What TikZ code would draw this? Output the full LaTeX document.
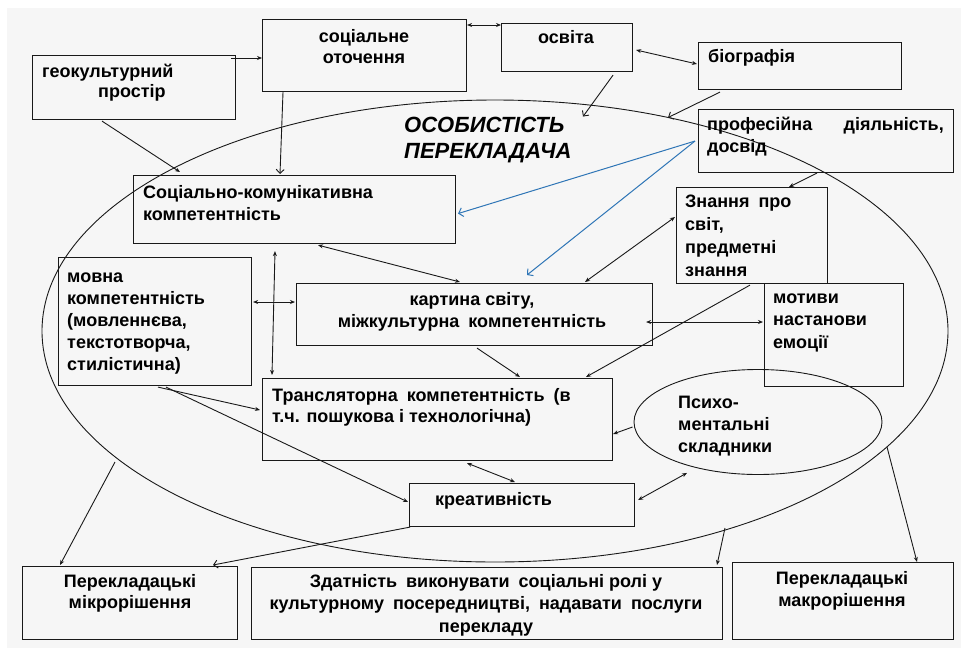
\documentclass[tikz,border=0pt]{standalone}
\usepackage{fontspec}
\setmainfont{Liberation Sans}
\newfontfamily\arialf{Liberation Sans}
\usetikzlibrary{arrows.meta,shapes.geometric,calc}
\definecolor{bg}{RGB}{246,246,246}
\definecolor{ln}{RGB}{25,25,25}
\definecolor{bl}{RGB}{46,117,182}
\newcommand{\fs}[1]{\fontsize{18}{#1}\selectfont\bfseries}
\newcommand{\wsp}{\hspace{0.5em}}
\begin{document}
\begin{tikzpicture}[x=1pt,y=-1pt,
  box/.style={draw=ln, line width=1.1pt, anchor=north west, inner sep=0pt},
  txt/.style={font=\fs{22}, inner sep=0pt, text=black},
  tl/.style={txt, anchor=base west, align=left},
  tc/.style={txt, anchor=base, align=center},
  con/.style={draw=ln, line width=0.9pt},
  tip/.style={-{Stealth[length=5pt,width=4pt]}},
  vtip/.style={-{Straight Barb[length=4pt,width=8pt]}},
  dtip/.style={{Stealth[length=5pt,width=4pt]}-{Stealth[length=5pt,width=4pt]}},
  blue/.style={draw=bl, line width=1pt, -{Straight Barb[length=4pt,width=9pt]}}]
\useasboundingbox (0,0) rectangle (961,651);
\fill[bg] (7,8) rectangle (961,648);
% big ellipse
\node[draw=ln, line width=0.9pt, ellipse, minimum width=906pt, minimum height=462pt, inner sep=0pt] (pers) at (495,331) {};
% boxes
\node[box, minimum width=203pt, minimum height=64pt] (geo) at (32,55) {};
\node[box, minimum width=204pt, minimum height=72pt] (sot) at (262,19) {};
\node[box, minimum width=131pt, minimum height=48pt] (osv) at (501,23) {};
\node[box, minimum width=203pt, minimum height=47pt] (bio) at (698,42) {};
\node[box, minimum width=255pt, minimum height=63pt] (prof) at (698,109) {};
\node[box, minimum width=322pt, minimum height=68pt] (skk) at (133,175) {};
\node[box, minimum width=151pt, minimum height=96pt] (zn) at (676,187) {};
\node[box, minimum width=193pt, minimum height=128pt] (mov) at (58,257) {};
\node[box, minimum width=356pt, minimum height=62pt] (kart) at (296,283) {};
\node[box, minimum width=139pt, minimum height=103pt] (mot) at (764,283) {};
\node[box, minimum width=350pt, minimum height=82pt] (tr) at (262,378) {};
\node[draw=ln, line width=0.9pt, ellipse, minimum width=248pt, minimum height=105pt, inner sep=0pt] (psy) at (758,422) {};
\node[box, minimum width=225pt, minimum height=43pt] (kre) at (409,483) {};
\node[box, minimum width=215pt, minimum height=73pt] (mikro) at (22,566) {};
\node[box, minimum width=471pt, minimum height=72pt] (zd) at (251,567) {};
\node[box, minimum width=221pt, minimum height=77pt] (makro) at (732,562) {};
% texts (anchor = baseline of last line)
\node[tl] (tgeo1) at (42,77) {геокультурний};
\node[tl] (tgeo2) at (98,97) {простір};
\node[tc, font=\fs{21}] (tsot) at (364,63) {соціальне\\оточення};
\node[tc] (tosv) at (566,43) {освіта};
\node[tl] (tbio) at (708,62) {біографія};
\node[tl] (tprof1) at (707,130) {професійна};
\node[txt, anchor=base east] (tprof2) at (944,130) {діяльність,};
\node[tl] (tprof3) at (707,152) {досвід};
\node[tl] (tskk) at (143,220) {Соціально-комунікативна\\компетентність};
\node[tl, font=\fs{22.7}] (tzn) at (685,276) {Знання\wsp про\\світ,\\предметні\\знання};
\node[tl] (tmov) at (67,370) {мовна\\компетентність\\(мовленнєва,\\текстотворча,\\стилістична)};
\node[tc] (tkart) at (472,327) {картина світу,\\міжкультурна\wsp компетентність};
\node[tl, font=\fs{22.5}] (tmot) at (773,348) {мотиви\\настанови\\емоції};
\node[tl, font=\fs{21}] (ttr) at (272,422) {Трансляторна\wsp компетентність\wsp (в\\т.ч. пошукова і технологічна)};
\node[tl] (tpsy) at (678,452) {Психо-\\ментальні\\складники};
\node[tl] (tkre) at (435,505) {креативність};
\node[tc, font=\fs{21}] (tmikro) at (130,608) {Перекладацькі\\мікрорішення};
\node[tc, font=\fs{22.5}] (tzd) at (486,632) {Здатність\wsp виконувати\wsp соціальні ролі у\\культурному\wsp посередництві,\wsp надавати\wsp послуги\\перекладу};
\node[tc, font=\fs{22}] (tmakro) at (842,606) {Перекладацькі\\макрорішення};
\node[font=\arialf\fontsize{22}{26}\selectfont\bfseries\itshape, anchor=base west, align=left, inner sep=0pt] (tpers) at (404,158) {ОСОБИСТІСТЬ\\ПЕРЕКЛАДАЧА};
% connectors
\draw[con, tip] ($(geo.north east)+(-5,3)$) -- ($(sot.north west)+(0,39)$);
\draw[con, dtip] ($(sot.north east)+(0,6)$) -- ($(osv.north west)+(0,2)$);
\draw[con, dtip] ($(osv.north east)+(3,27)$) -- ($(bio.north west)+(-1,22)$);
\draw[con, vtip] ($(osv.south)+(46,3)$) -- ($(pers.north)+(88,17)$);
\draw[con, vtip] ($(bio.south west)+(22,2)$) -- ($(pers.north)+(173,18)$);
\draw[con, tip] ($(geo.south west)+(70,1)$) -- ($(skk.north west)+(47,-3)$);
\draw[con, vtip] ($(sot.south west)+(21,0)$) -- ($(skk.north west)+(147,-1)$);
\draw[blue] ($(prof.west)+(-3,0)$) -- ($(skk.east)+(2,4)$);
\draw[blue] ($(prof.west)+(-3,0)$) -- ($(kart.north west)+(231,-8)$);
\draw[con, tip] ($(prof.south west)+(119,0)$) -- ($(zn.north west)+(113,0)$);
\draw[con, dtip] ($(skk.south west)+(185,1)$) -- ($(kart.north west)+(164,-1)$);
\draw[con, dtip] ($(skk.south west)+(142,7)$) -- ($(tr.north west)+(10,-3)$);
\draw[con, dtip] ($(mov.north east)+(1,45)$) -- ($(kart.north west)+(-1,19)$);
\draw[con, dtip] ($(zn.north west)+(-1,30)$) -- ($(kart.north west)+(289,-1)$);
\draw[con, dtip] ($(kart.north east)+(-7,39)$) -- ($(mot.north west)+(-1,39)$);
\draw[con, tip] ($(zn.south west)+(74,1)$) -- ($(tr.north west)+(324,-1)$);
\draw[con, tip] ($(kart.south west)+(181,2)$) -- ($(tr.north west)+(258,-1)$);
\draw[con, tip] ($(mov.south west)+(100,1)$) -- ($(tr.north west)+(-2,32)$);
\draw[con, tip] ($(mov.south west)+(108,1)$) -- ($(kre.north west)+(-1,19)$);
\draw[con, tip] ($(psy.west)+(-1,5)$) -- ($(tr.north east)+(0,56)$);
\draw[con, dtip] ($(tr.south west)+(205,2)$) -- ($(kre.north west)+(106,-1)$);
\draw[con, dtip] ($(kre.north east)+(3,17)$) -- ($(psy.south)+(-71,-2)$);
\draw[con, vtip] ($(kre.south west)+(1,0)$) -- ($(mikro.north west)+(191,-1)$);
\draw[con, tip] ($(pers.center)+(-380,131)$) -- ($(mikro.north west)+(38,-1)$);
\draw[con, tip] ($(pers.center)+(230,197)$) -- ($(zd.north west)+(466,-2)$);
\draw[con, tip] ($(pers.center)+(392,116)$) -- ($(makro.north west)+(185,0)$);
\end{tikzpicture}
\end{document}
